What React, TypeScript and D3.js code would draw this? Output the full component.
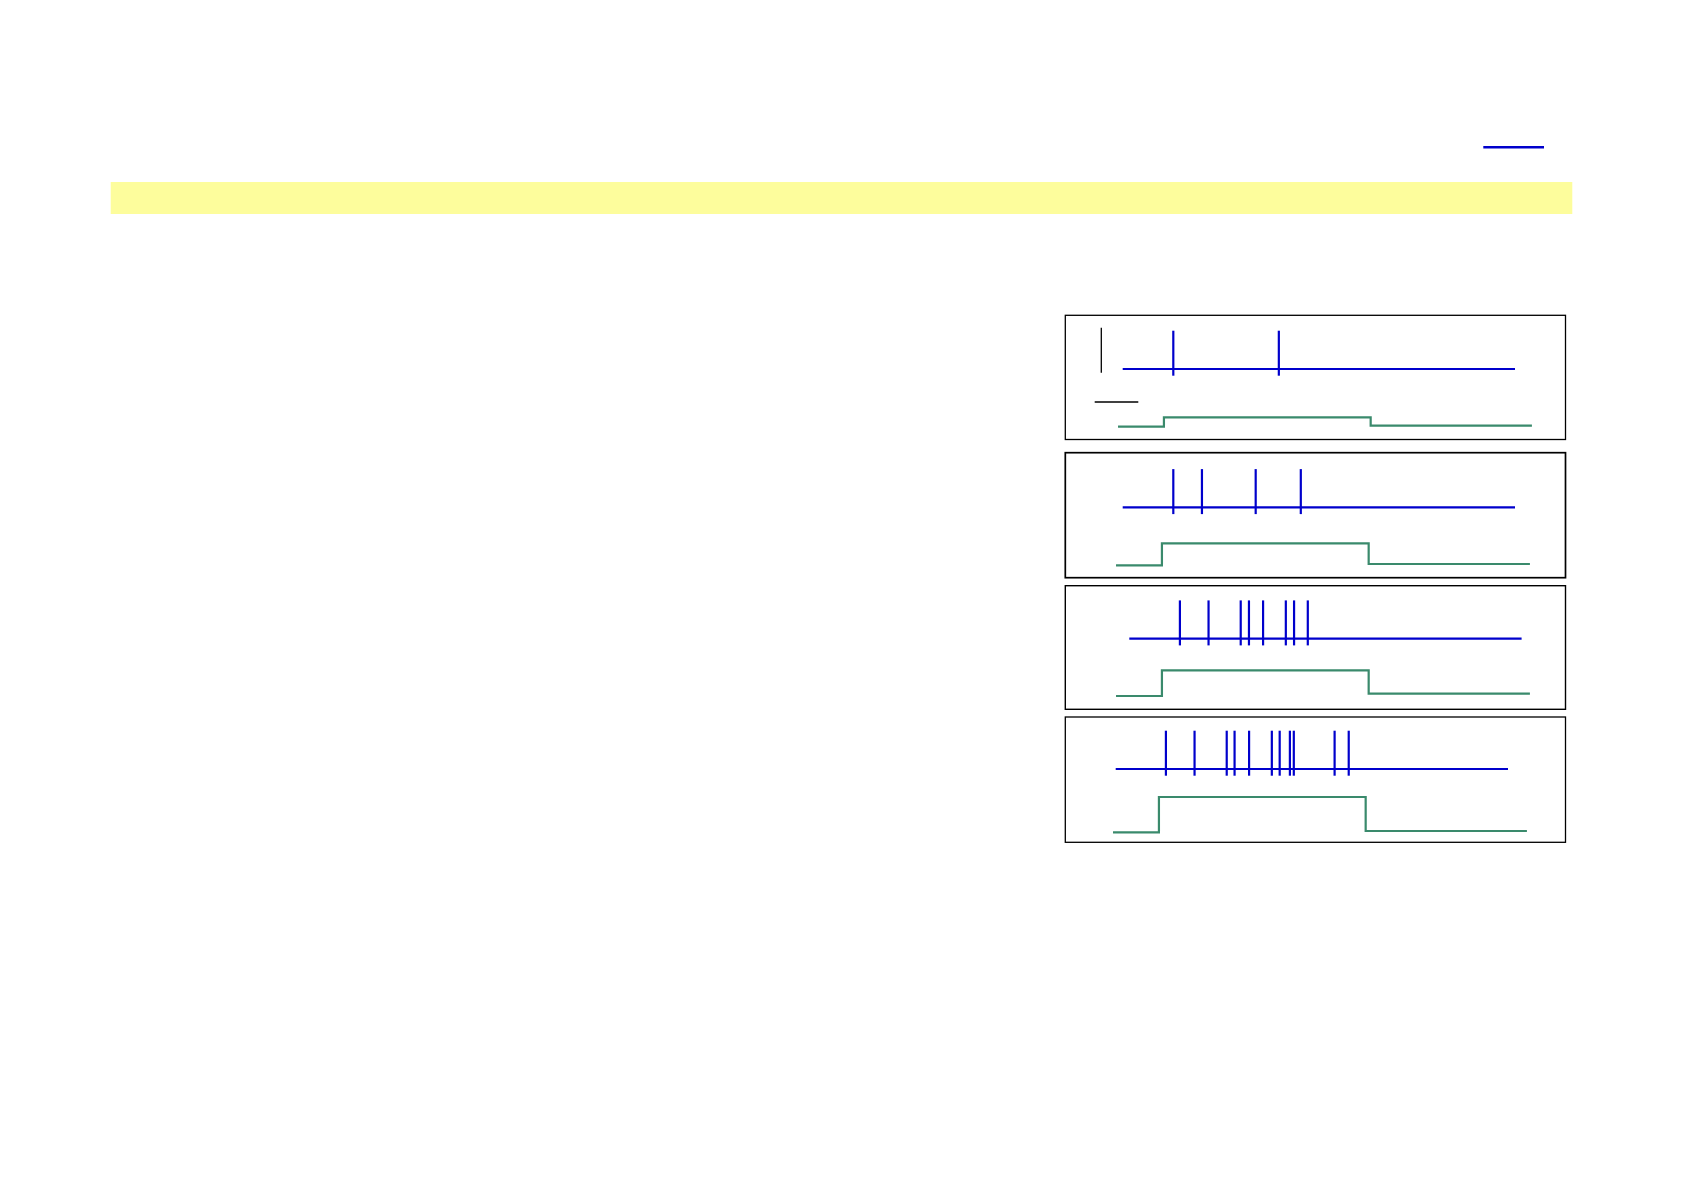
import React from "react";
import * as d3 from "d3";

// ---- data (times in ms, stimulus in arbitrary units) ----
const trialNames = ["trial1", "trial2", "trial3", "trial4"];
const spikesTrial1 = [129, 398];
const spikesTrial2 = [129, 202, 339, 454];
const spikesTrial3 = [129, 202, 284, 305, 341, 399, 420, 455];
const spikesTrial4 = [128, 201, 283, 303, 340, 398, 418, 444, 454, 558, 594];
const spikeTrains = [spikesTrial1, spikesTrial2, spikesTrial3, spikesTrial4];
const recordStart = 0;
const recordEnd = 1000;
// stimulus trace: time points and levels
const stimTimes = [-17, 100, 100, 627, 627, 1038];
const stimOnLevel = [9.4, 22, 25.7, 35.4];
const stimPostLevel = [1, 1.4, 2.3, 1.4];

// ---- layout ----
const W = 1684;
const H = 1191;
const panelX = 1065.3;
const panelW = 500.2;
const panelTops = [315.3, 452.7, 585.7, 717];
const panelHeights = [124.2, 125, 123.6, 125.3];
const panelStroke = [1.3, 1.7, 1.4, 1.3];
const blueShift = [0, 0, 6.6, -7];
const greenShift = [2, 0, 0, -3];
const baselineY = [53.7, 54.7, 53, 52];
const spikeUp = 38.3;
const spikeDown = 6.7;
const stimLowY = [111.4, 112.7, 110.3, 115.4];

const BLUE = "#0000cc";
const GREEN = "#3a8a6c";

export default function App() {
  const x = d3.scaleLinear().domain([0, 1000]).range([1122.7, 1515]);
  const stimY = d3.scaleLinear().domain([0, 1]).range([0, -1]);

  return (
    <svg
      width={W}
      height={H}
      style={{ position: "absolute", left: 0, top: 0, background: "#fff" }}
    >
      {/* link-like underline */}
      <line x1={1483.3} x2={1544} y1={147.3} y2={147.3} stroke={BLUE} strokeWidth={2.6} />
      {/* yellow band */}
      <rect x={110.7} y={182} width={1572.3 - 110.7} height={32} fill="#fdfd9c" />

      {trialNames.map((name, i) => {
        const top = panelTops[i];
        const sx = (t: number) => x(t) + blueShift[i];
        const gx = (t: number) => x(t) + greenShift[i];
        const by = top + baselineY[i];
        const levels = [0, 0, stimOnLevel[i], stimOnLevel[i], stimPostLevel[i], stimPostLevel[i]];
        const stimLine = d3
          .line<number>()
          .x((_, k) => gx(stimTimes[k]))
          .y((v) => top + stimLowY[i] + stimY(v));
        return (
          <g key={name}>
            <rect
              x={panelX}
              y={top}
              width={panelW}
              height={panelHeights[i]}
              fill="none"
              stroke="#000"
              strokeWidth={panelStroke[i]}
            />
            <line
              x1={sx(recordStart)}
              x2={sx(recordEnd)}
              y1={by}
              y2={by}
              stroke={BLUE}
              strokeWidth={2.2}
            />
            {spikeTrains[i].map((t, k) => (
              <line
                key={k}
                x1={sx(t)}
                x2={sx(t)}
                y1={by - spikeUp}
                y2={by + spikeDown}
                stroke={BLUE}
                strokeWidth={2.2}
              />
            ))}
            <path d={stimLine(levels) || ""} fill="none" stroke={GREEN} strokeWidth={2.2} />
            {i === 0 && (
              <g>
                <line x1={1101.3} x2={1101.3} y1={327.7} y2={372.7} stroke="#000" strokeWidth={1.3} />
                <line x1={1094.7} x2={1138.3} y1={402} y2={402} stroke="#000" strokeWidth={1.3} />
              </g>
            )}
          </g>
        );
      })}
    </svg>
  );
}
